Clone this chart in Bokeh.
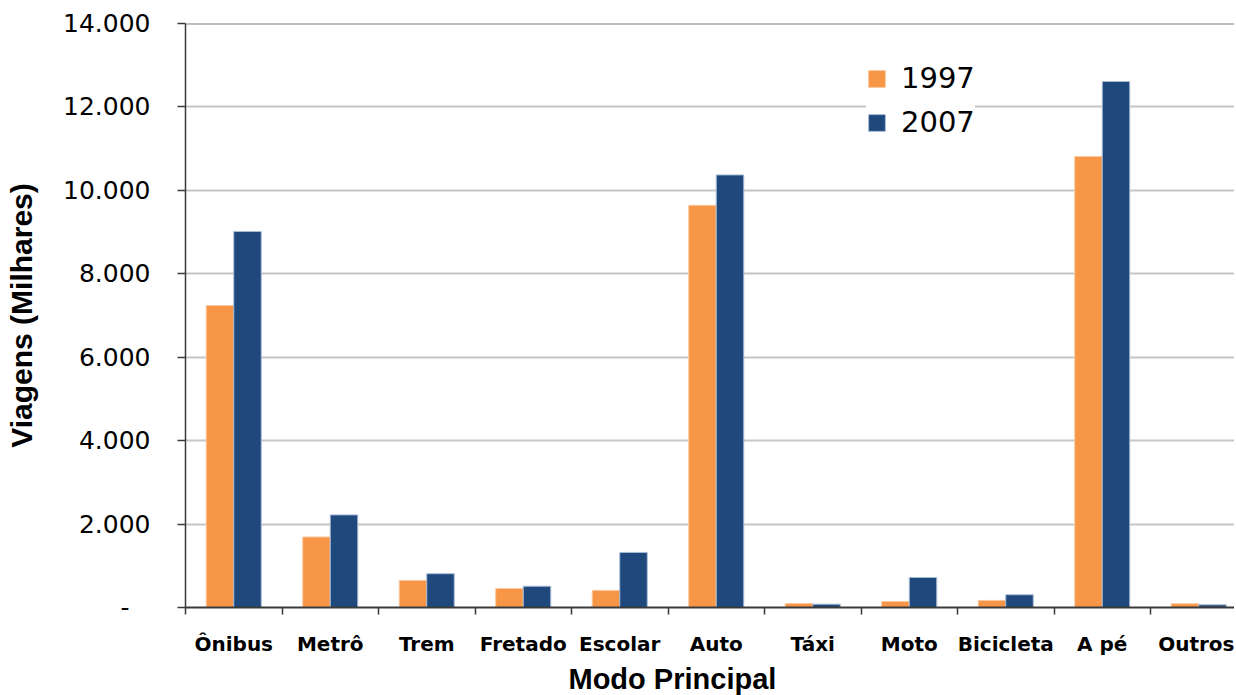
from bokeh.plotting import figure
from bokeh.models import Range1d, FixedTicker, Legend, LegendItem, Span, ColumnDataSource, Title
from bokeh.transform import dodge
from bokeh.embed import file_html
from bokeh.resources import INLINE

categories = ["Ônibus", "Metrô", "Trem", "Fretado", "Escolar", "Auto", "Táxi", "Moto", "Bicicleta", "A pé", "Outros"]
v1997 = [7240, 1690, 650, 455, 410, 9640, 95, 145, 170, 10810, 90]
v2007 = [9015, 2220, 810, 510, 1320, 10370, 80, 720, 305, 12610, 65]
series_names = ["1997", "2007"]
y_ticks = [0, 2000, 4000, 6000, 8000, 10000, 12000, 14000]
y_tick_labels = ["-\u00a0\u00a0\u2009", "2.000", "4.000", "6.000", "8.000", "10.000", "12.000", "14.000"]
x_title = "Modo Principal"
y_title = "Viagens (Milhares)"

ORANGE = "#F79646"
BLUE = "#1F497D"

xs = list(range(1, len(categories) + 1))
src = ColumnDataSource(dict(x=xs, cat=categories, v1997=v1997, v2007=v2007))

px_per_cat = 96.5
frame_w = 1049
p = figure(
    frame_width=frame_w, frame_height=584,
    min_border_left=185, min_border_right=0, min_border_top=23, min_border_bottom=78,
    x_range=Range1d(0.5, 0.5 + frame_w / px_per_cat),
    y_range=Range1d(0, 14000),
    output_backend="svg", toolbar_location=None,
)
p.outline_line_color = None
p.background_fill_color = "white"
p.border_fill_color = "white"

bw = 0.285
r1 = p.vbar(x=dodge("x", -bw / 2), top="v1997", source=src, width=bw, bottom=0,
            fill_color=ORANGE, line_color="#fbc79c", line_width=1)
r2 = p.vbar(x=dodge("x", bw / 2), top="v2007", source=src, width=bw, bottom=0,
            fill_color=BLUE, line_color="#a9bcd6", line_width=1)

# y axis
ya = p.yaxis[0]
ya.ticker = FixedTicker(ticks=y_ticks, minor_ticks=[])
ya.major_label_overrides = {t: l for t, l in zip(y_ticks, y_tick_labels)}
ya.major_label_text_font = "DejaVu Sans"
ya.major_label_text_font_size = "25px"
ya.major_label_text_color = "black"
ya.major_label_standoff = 27
ya.major_tick_out = 8
ya.major_tick_in = 0
ya.minor_tick_out = 0
ya.minor_tick_in = 0
ya.axis_line_color = "#3a3a3a"
ya.axis_line_width = 1.5
ya.major_tick_line_color = "#3a3a3a"
ya.major_tick_line_width = 1.5
ya.axis_label = y_title
ya.axis_label_text_font = "Liberation Sans"
ya.axis_label_text_font_style = "bold"
ya.axis_label_text_font_size = "30px"
ya.axis_label_text_color = "black"
ya.axis_label_standoff = 22

# x axis
xa = p.xaxis[0]
xa.ticker = FixedTicker(ticks=xs, minor_ticks=[i + 0.5 for i in range(0, len(categories) + 1)])
xa.major_label_overrides = {x: c for x, c in zip(xs, categories)}
xa.major_label_text_font = "DejaVu Sans"
xa.major_label_text_font_style = "bold"
xa.major_label_text_font_size = "20px"
xa.major_label_text_color = "black"
xa.major_label_standoff = 17
xa.major_tick_out = 0
xa.major_tick_in = 0
xa.minor_tick_out = 7
xa.minor_tick_in = 0
xa.minor_tick_line_color = "#3a3a3a"
xa.minor_tick_line_width = 1.5
xa.axis_line_color = "#3a3a3a"
xa.axis_line_width = 2

p.add_layout(Title(text=x_title, align="left", offset=383, standoff=5,
                   text_font="Liberation Sans", text_font_style="bold",
                   text_font_size="29px", text_color="black"), "below")

p.xgrid.grid_line_color = None
p.ygrid.ticker = FixedTicker(ticks=y_ticks)
p.ygrid.grid_line_color = "#c6c6c6"
p.ygrid.grid_line_width = 2

p.add_layout(Span(location=14000, dimension="width", line_color="#808080", line_width=2))

legend = Legend(
    items=[LegendItem(label=series_names[0], renderers=[r1]),
           LegendItem(label=series_names[1], renderers=[r2])],
    location=(681, 468),
    orientation="vertical",
    label_text_font="DejaVu Sans",
    label_text_font_size="29px",
    label_text_color="black",
    glyph_width=21, glyph_height=21,
    label_standoff=14,
    spacing=10,
    padding=11, margin=0,
    border_line_color=None,
    background_fill_color="white", background_fill_alpha=1.0,
)
p.add_layout(legend)

open("out.html", "w").write(file_html(p, INLINE))
